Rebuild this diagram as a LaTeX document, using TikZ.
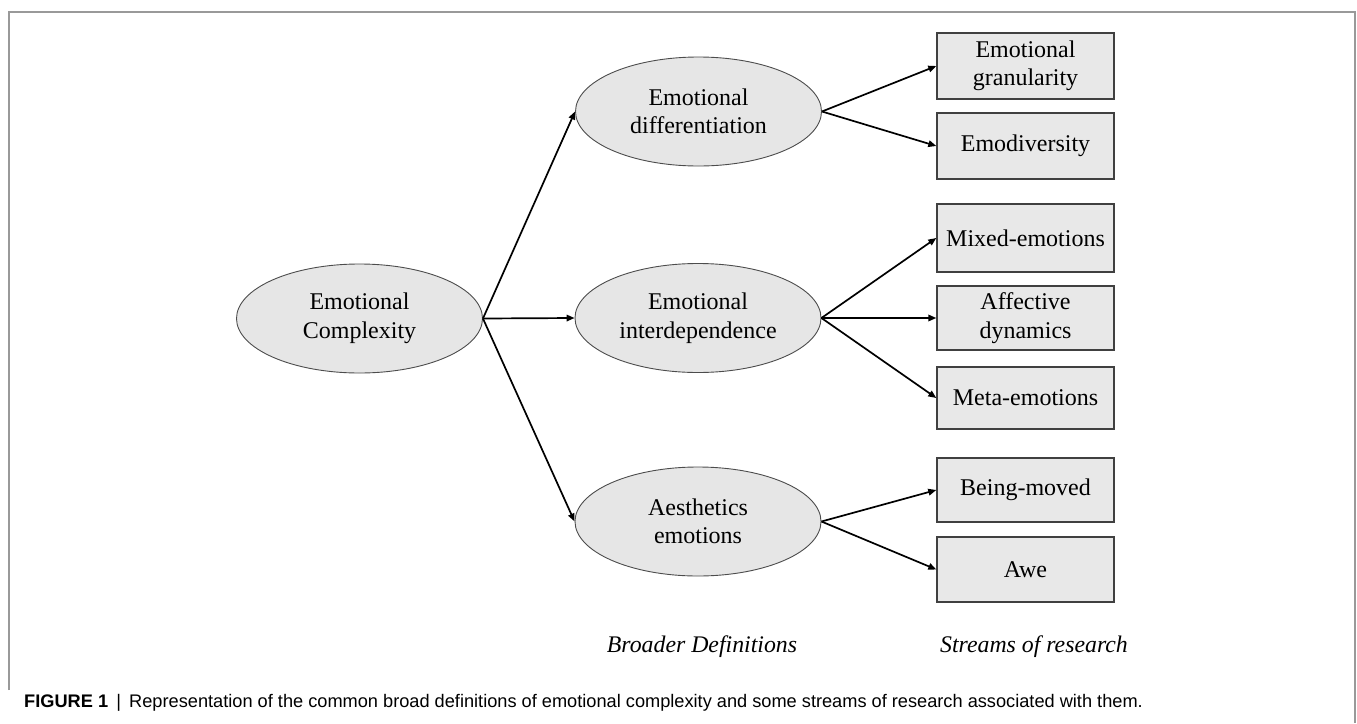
\documentclass[tikz,border=0pt]{standalone}
\usepackage{fontspec}
\setmainfont{Liberation Serif}
\newfontfamily\capfont{Liberation Sans}
\usetikzlibrary{shapes.geometric,arrows.meta}
\definecolor{ellfill}{HTML}{E6E6E6}
\definecolor{boxfill}{HTML}{E8E8E8}
\definecolor{frameg}{HTML}{999999}
\tikzset{
  ell/.style={ellipse,draw=black!70,line width=0.9pt,fill=ellfill,inner sep=0pt,
    minimum width=246pt,minimum height=109pt,align=center,
    font=\fontsize{24}{28.5}\selectfont},
  rbox/.style={rectangle,draw=black!75,line width=1.4pt,fill=boxfill,inner sep=0pt,
    minimum width=177pt,align=center,font=\fontsize{24}{28.5}\selectfont},
  conn/.style={line width=1.7pt,-{Triangle[length=8pt,width=6.5pt]}},
  lab/.style={font=\fontsize{23.8}{28}\selectfont\itshape,inner sep=0pt}
}
\begin{document}
\begin{tikzpicture}[x=1pt,y=-1pt]
\useasboundingbox (0,0) rectangle (1357,723);
% frame
\draw[frameg,line width=1.5pt] (9,690) -- (9,12) -- (1355,12) -- (1355,723);
% ellipses
\node[ell] (comp) at (359.5,318.5) {Emotional\\Complexity};
\node[ell] (diff) at (698.5,111.5) {Emotional\\differentiation};
\node[ell] (inter) at (698,318) {Emotional\\interdependence};
\node[ell] (aes) at (698,521.5) {Aesthetics\\emotions};
% boxes
\node[rbox,minimum height=66pt] (gran) at (1025.5,66) {Emotional\\granularity};
\node[rbox,minimum height=66pt] (emod) at (1025.5,146) {Emodiversity};
\node[rbox,minimum height=68pt] (mixed) at (1025.5,238) {Mixed-emotions};
\node[rbox,minimum height=64pt] (aff) at (1025.5,318) {Affective\\dynamics};
\node[rbox,minimum height=62pt] (meta) at (1025.5,398) {Meta-emotions};
\node[rbox,minimum height=64pt] (moved) at (1025.5,490) {Being-moved};
\node[rbox,minimum height=65pt] (awe) at (1025.5,569.5) {Awe};
% connectors
\draw[conn] (comp.east) -- (diff.west);
\draw[conn] (comp.east) -- (inter.west);
\draw[conn] (comp.east) -- (aes.west);
\draw[conn] (diff.east) -- (gran.west);
\draw[conn] (diff.east) -- (emod.west);
\draw[conn] (inter.east) -- (mixed.west);
\draw[conn] (inter.east) -- (aff.west);
\draw[conn] (inter.east) -- (meta.west);
\draw[conn] (aes.east) -- (moved.west);
\draw[conn] (aes.east) -- (awe.west);
% column labels
\node[lab,anchor=base] (lbd) at (702,652) {Broader Definitions};
\node[lab,anchor=base] (lsr) at (1034,652) {Streams of research};
% caption
\node[anchor=base west,inner sep=0pt,font=\capfont\fontsize{18.2}{21}\selectfont] (cap) at (24,707)
  {\textbf{FIGURE 1}\hspace{0.45em}|\hspace{0.45em}Representation of the common broad definitions of emotional complexity and some streams of research associated with them.};
\end{tikzpicture}
\end{document}
